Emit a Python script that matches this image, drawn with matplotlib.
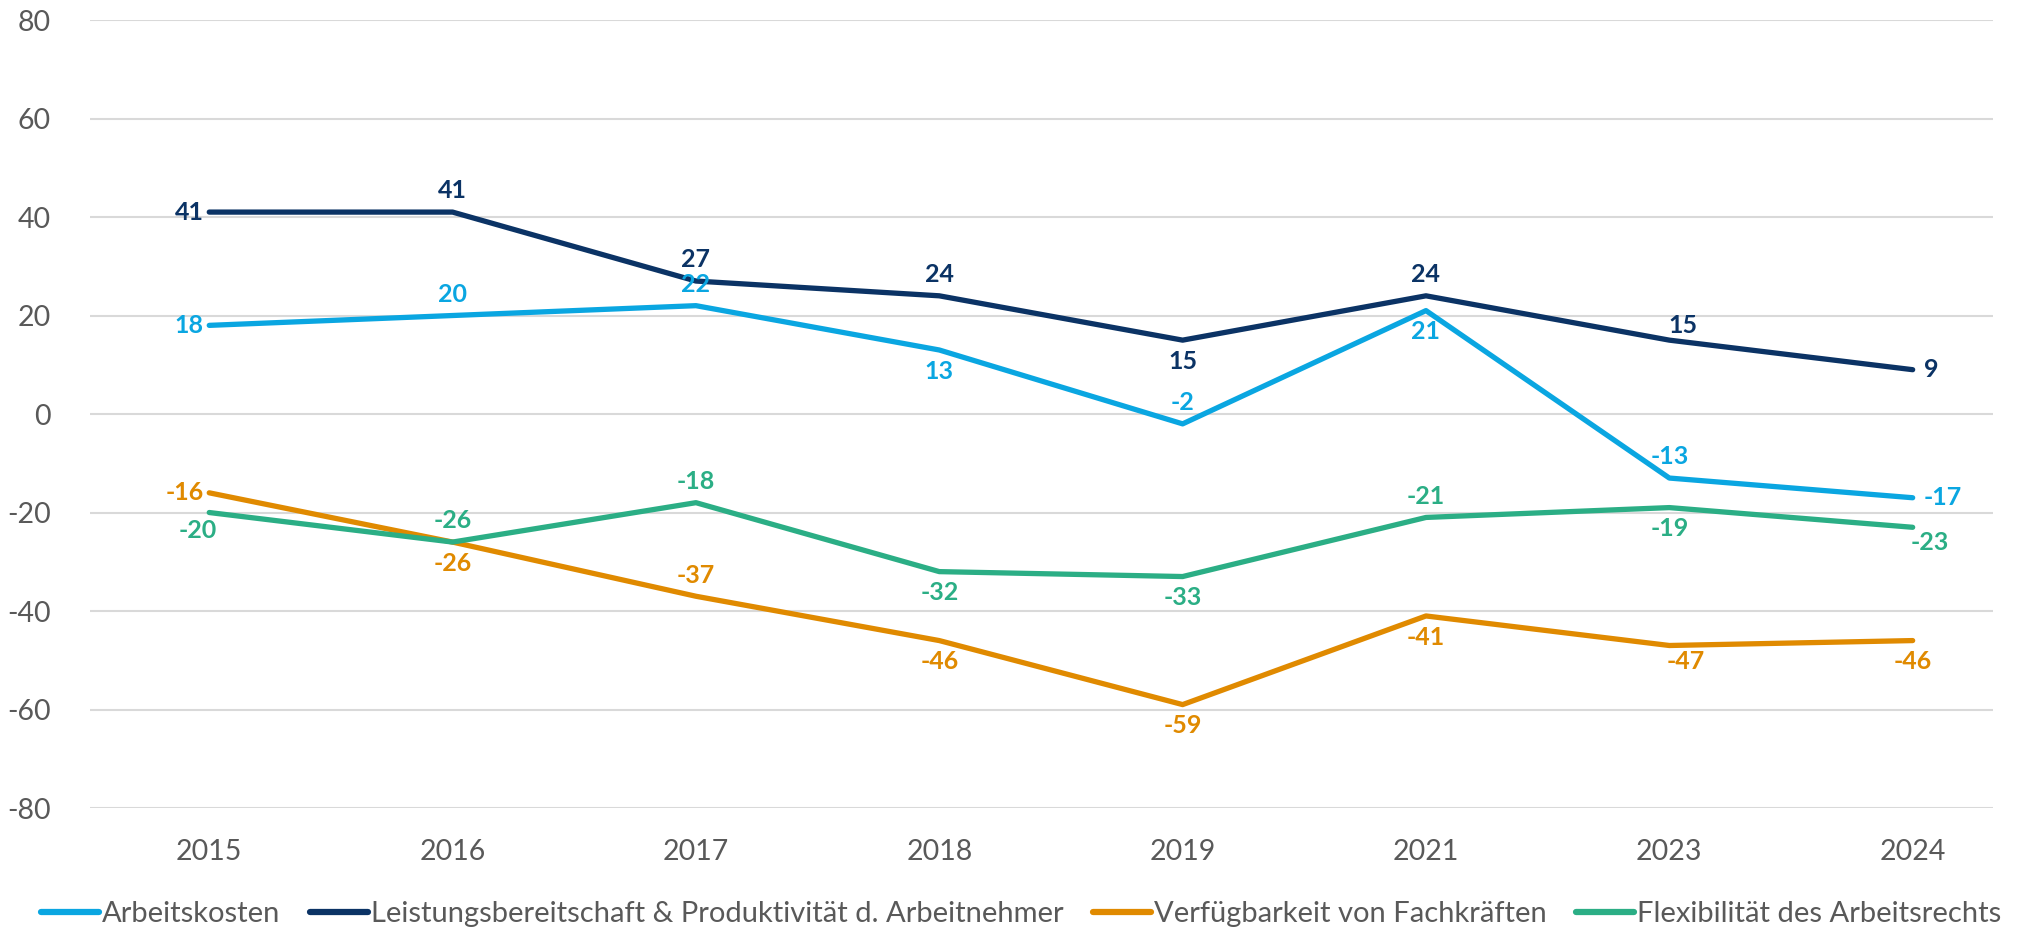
import matplotlib
matplotlib.use("Agg")
import matplotlib.pyplot as plt

plt.rcParams['font.family'] = ['Lato', 'DejaVu Sans']

years = ["2015", "2016", "2017", "2018", "2019", "2021", "2023", "2024"]
series_names = [
    "Arbeitskosten",
    "Leistungsbereitschaft & Produktivität d. Arbeitnehmer",
    "Verfügbarkeit von Fachkräften",
    "Flexibilität des Arbeitsrechts",
]
arbeitskosten = [18, 20, 22, 13, -2, 21, -13, -17]
leistung = [41, 41, 27, 24, 15, 24, 15, 9]
fachkraefte = [-16, -26, -37, -46, -59, -41, -47, -46]
flexibilitaet = [-20, -26, -18, -32, -33, -21, -19, -23]
y_ticks = [-80, -60, -40, -20, 0, 20, 40, 60, 80]

colors = ["#0AA6E1", "#0B3365", "#E08A00", "#2BAE85"]
# label placement per point: l=left, r=right, a=above, b=below, br=below-right, ar=above-right, bl=below-left
label_pos = [
    ["l", "a", "a", "b", "a", "b", "a", "r"],
    ["l", "a", "a", "a", "b", "a", "ar", "r"],
    ["l", "b", "a", "b", "b", "b", "br", "b"],
    ["bl", "a", "a", "b", "b", "a", "b", "br"],
]
offsets = {
    "l": ((-4, 0), "right", "center"),
    "r": ((8, 0), "left", "center"),
    "a": ((0, 7), "center", "bottom"),
    "b": ((0, -7), "center", "top"),
    "ar": ((10, 2), "center", "bottom"),
    "br": ((12, -3), "center", "top"),
    "bl": ((-8, -5), "center", "top"),
}

data = [arbeitskosten, leistung, fachkraefte, flexibilitaet]

fig = plt.figure(figsize=(20.18, 9.35), dpi=100)
ax = fig.add_axes([0.0446, 0.1358, 0.943, 0.8428])

x = list(range(len(years)))
for vals, name, col, poss in zip(data, series_names, colors, label_pos):
    ax.plot(x, vals, color=col, lw=3.8, label=name, solid_capstyle="round", zorder=3)
    for xi, v, p in zip(x, vals, poss):
        (dx, dy), ha, va = offsets[p]
        ax.annotate(str(v), (xi, v), xytext=(dx, dy), textcoords="offset points",
                    ha=ha, va=va, color=col, fontsize=18, fontweight="bold", zorder=4)

ax.set_ylim(-80, 80)
ax.set_xlim(-0.49, len(years) - 0.67)
ax.set_yticks(y_ticks)
ax.set_yticklabels([str(t) for t in y_ticks])
ax.set_xticks(x)
ax.set_xticklabels(years)
ax.tick_params(axis="both", length=0, labelsize=20.5, labelcolor="#595959")
ax.tick_params(axis="y", pad=28)
ax.tick_params(axis="x", pad=22)
ax.grid(axis="y", color="#D9D9D9", lw=1.5, zorder=0)
ax.set_axisbelow(True)
for s in ax.spines.values():
    s.set_visible(False)

leg = fig.legend(loc="lower center", bbox_to_anchor=(0.506, 0.005), ncol=4, frameon=False,
                 fontsize=21, handlelength=2.0, handletextpad=0.1, columnspacing=1.0,
                 borderpad=0.1, borderaxespad=0.0, labelcolor="#595959")
for h in leg.get_lines():
    h.set_linewidth(4.5)

fig.savefig("out.png", dpi=100)
